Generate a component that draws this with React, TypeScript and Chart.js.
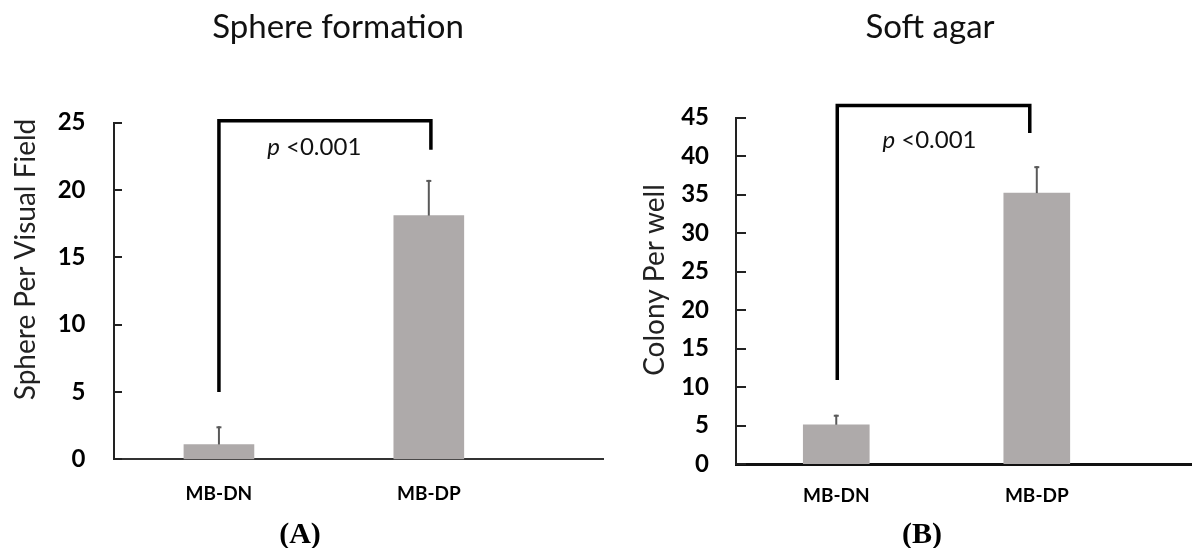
import { useEffect, useRef } from "react";
import { Chart, registerables } from "chart.js";

Chart.register(...registerables);

// ---------- data ----------
const categories = ["MB-DN", "MB-DP"];

const sphereMeans = [1.1, 18.1];
const sphereErrors = [1.35, 2.65];
const sphereTickValues = [0, 5, 10, 15, 20, 25];
const sphereBracketX = [0, 1.01];
const sphereBracketY = [5, 25.15, 23]; // left foot, top, right foot

const colonyMeans = [5.1, 35.2];
const colonyErrors = [1.3, 3.5];
const colonyTickValues = [0, 5, 10, 15, 20, 25, 30, 35, 40, 45];
const colonyBracketX = [0.005, 0.965];
const colonyBracketY = [10.9, 46.6, 43];

const pItalic = "p";
const pRest = " <0.001";

const W = 1192;
const H = 548;
const FONT = "Lato, 'Open Sans', 'DejaVu Sans', sans-serif";

type Panel = {
  title: string;
  yTitle: string;
  letter: string;
  means: number[];
  errors: number[];
  ticks: number[];
  yMax: number;
  xMax: number;
  bracketX: number[];
  bracketY: number[];
  pAnchor: number[];
  area: { left: number; right: number; top: number; bottom: number };
  titleX: number;
  yTitlePos: number[];
  letterX: number;
  barThickness: number;
  tickLen: number;
  xBorderWidth: number;
  xBorderColor: string;
  xLabelPad: number;
  yLabelPad: number;
};

const panels: Panel[] = [
  {
    title: "Sphere formation",
    yTitle: "Sphere Per Visual Field",
    letter: "(A)",
    means: sphereMeans,
    errors: sphereErrors,
    ticks: sphereTickValues,
    yMax: 25,
    xMax: 1.83,
    bracketX: sphereBracketX,
    bracketY: sphereBracketY,
    pAnchor: [0.23, 23.2],
    area: { left: 114, right: 603, top: 122.7, bottom: 459.3 },
    titleX: 338,
    yTitlePos: [26, 259.5],
    letterX: 300,
    barThickness: 70,
    tickLen: 8,
    xBorderWidth: 2,
    xBorderColor: "#333333",
    xLabelPad: 23,
    yLabelPad: 28.5,
  },
  {
    title: "Soft agar",
    yTitle: "Colony Per well",
    letter: "(B)",
    means: colonyMeans,
    errors: colonyErrors,
    ticks: colonyTickValues,
    yMax: 45,
    xMax: 1.774,
    bracketX: colonyBracketX,
    bracketY: colonyBracketY,
    pAnchor: [0.23, 42.1],
    area: { left: 736, right: 1192, top: 117.7, bottom: 464 },
    titleX: 930,
    yTitlePos: [655, 280],
    letterX: 922,
    barThickness: 66,
    tickLen: 10,
    xBorderWidth: 3,
    xBorderColor: "#111111",
    xLabelPad: 20,
    yLabelPad: 27,
  },
];

const Y_W = 114;
const X_H = 60;

function decorPlugin(p: Panel) {
  return {
    id: "panelDecor",
    afterDatasetsDraw(chart: any) {
      const { ctx } = chart;
      const x = chart.scales.x;
      const y = chart.scales.y;
      ctx.save();
      ctx.strokeStyle = "#595959";
      ctx.lineWidth = 2;
      p.means.forEach((m, i) => {
        const px = x.getPixelForValue(i);
        const yb = y.getPixelForValue(m);
        const yt = y.getPixelForValue(m + p.errors[i]);
        ctx.beginPath();
        ctx.moveTo(px, yb);
        ctx.lineTo(px, yt);
        ctx.stroke();
        ctx.beginPath();
        ctx.moveTo(px - 2.5, yt + 1);
        ctx.lineTo(px + 2.5, yt + 1);
        ctx.stroke();
      });
      ctx.restore();
    },
    afterDraw(chart: any) {
      const { ctx, chartArea } = chart;
      const x = chart.scales.x;
      const y = chart.scales.y;
      ctx.save();
      // inward tick marks
      ctx.strokeStyle = "#222222";
      ctx.lineWidth = 2;
      p.ticks.forEach((v) => {
        const py = Math.round(y.getPixelForValue(v));
        ctx.beginPath();
        ctx.moveTo(chartArea.left, py);
        ctx.lineTo(chartArea.left + p.tickLen, py);
        ctx.stroke();
      });
      // significance bracket
      ctx.strokeStyle = "#000000";
      ctx.lineWidth = 3.5;
      ctx.lineJoin = "miter";
      ctx.beginPath();
      const bx0 = x.getPixelForValue(p.bracketX[0]);
      const bx1 = x.getPixelForValue(p.bracketX[1]);
      ctx.moveTo(bx0, y.getPixelForValue(p.bracketY[0]));
      ctx.lineTo(bx0, y.getPixelForValue(p.bracketY[1]));
      ctx.lineTo(bx1, y.getPixelForValue(p.bracketY[1]));
      ctx.lineTo(bx1, y.getPixelForValue(p.bracketY[2]));
      ctx.stroke();
      // p-value label
      ctx.fillStyle = "#111111";
      ctx.textBaseline = "middle";
      ctx.textAlign = "left";
      const tx = x.getPixelForValue(p.pAnchor[0]);
      const ty = y.getPixelForValue(p.pAnchor[1]);
      ctx.font = `italic 24px ${FONT}`;
      ctx.fillText(pItalic, tx, ty);
      const wItal = ctx.measureText(pItalic).width;
      ctx.font = `24px ${FONT}`;
      ctx.fillText(pRest, tx + wItal, ty);
      // chart title
      ctx.textAlign = "center";
      ctx.textBaseline = "alphabetic";
      ctx.fillStyle = "#111111";
      ctx.font = `33px ${FONT}`;
      ctx.fillText(p.title, p.titleX, 38);
      // y axis title
      ctx.save();
      ctx.translate(p.yTitlePos[0], p.yTitlePos[1]);
      ctx.rotate(-Math.PI / 2);
      ctx.textBaseline = "middle";
      ctx.fillStyle = "#222222";
      ctx.font = `28px ${FONT}`;
      ctx.fillText(p.yTitle, 0, 0);
      ctx.restore();
      // panel letter
      ctx.fillStyle = "#000000";
      ctx.font = `bold 30px 'Liberation Serif', 'Times New Roman', serif`;
      ctx.textAlign = "center";
      ctx.fillText(p.letter, p.letterX, 543);
      ctx.restore();
    },
  };
}

function PanelChart({ p }: { p: Panel }) {
  const ref = useRef<HTMLCanvasElement>(null);
  useEffect(() => {
    if (!ref.current) return;
    const chart = new Chart(ref.current, {
      type: "bar",
      data: {
        datasets: [
          {
            data: p.means.map((m, i) => ({ x: i, y: m })),
            backgroundColor: "#AEAAAA",
            borderWidth: 0,
            barThickness: p.barThickness,
          } as any,
        ],
      },
      options: {
        animation: false,
        responsive: false,
        devicePixelRatio: 1,
        events: [],
        layout: {
          padding: {
            left: p.area.left - Y_W,
            right: W - p.area.right,
            top: p.area.top,
            bottom: H - p.area.bottom - X_H,
          },
        },
        plugins: {
          legend: { display: false },
          tooltip: { enabled: false },
          title: { display: false },
        },
        scales: {
          x: {
            type: "linear",
            min: -0.5,
            max: p.xMax,
            offset: false,
            grid: { display: false, drawTicks: false, offset: false },
            border: { display: true, color: p.xBorderColor, width: p.xBorderWidth },
            afterBuildTicks: (s: any) => {
              s.ticks = categories.map((_, i) => ({ value: i }));
            },
            afterFit: (s: any) => {
              s.height = X_H;
            },
            ticks: {
              autoSkip: false,
              maxRotation: 0,
              padding: p.xLabelPad,
              color: "#000000",
              font: { family: FONT, size: 19, weight: "bold" },
              callback: (v: any) => categories[Math.round(Number(v))] ?? "",
            },
          },
          y: {
            type: "linear",
            min: 0,
            max: p.yMax,
            grid: { display: false, drawTicks: false },
            border: { display: true, color: "#222222", width: 2 },
            afterBuildTicks: (s: any) => {
              s.ticks = p.ticks.map((v) => ({ value: v }));
            },
            afterFit: (s: any) => {
              s.width = Y_W;
            },
            ticks: {
              padding: p.yLabelPad,
              color: "#000000",
              font: { family: FONT, size: 24, weight: "bold" },
            },
          },
        } as any,
      },
      plugins: [decorPlugin(p)],
    });
    return () => chart.destroy();
  }, [p]);
  return (
    <canvas
      ref={ref}
      width={W}
      height={H}
      style={{ position: "absolute", left: 0, top: 0, width: W, height: H }}
    />
  );
}

export default function App() {
  return (
    <div
      style={{
        position: "absolute",
        left: 0,
        top: 0,
        width: W,
        height: H,
        background: "#ffffff",
        overflow: "hidden",
      }}
    >
      {panels.map((p) => (
        <PanelChart key={p.letter} p={p} />
      ))}
    </div>
  );
}
